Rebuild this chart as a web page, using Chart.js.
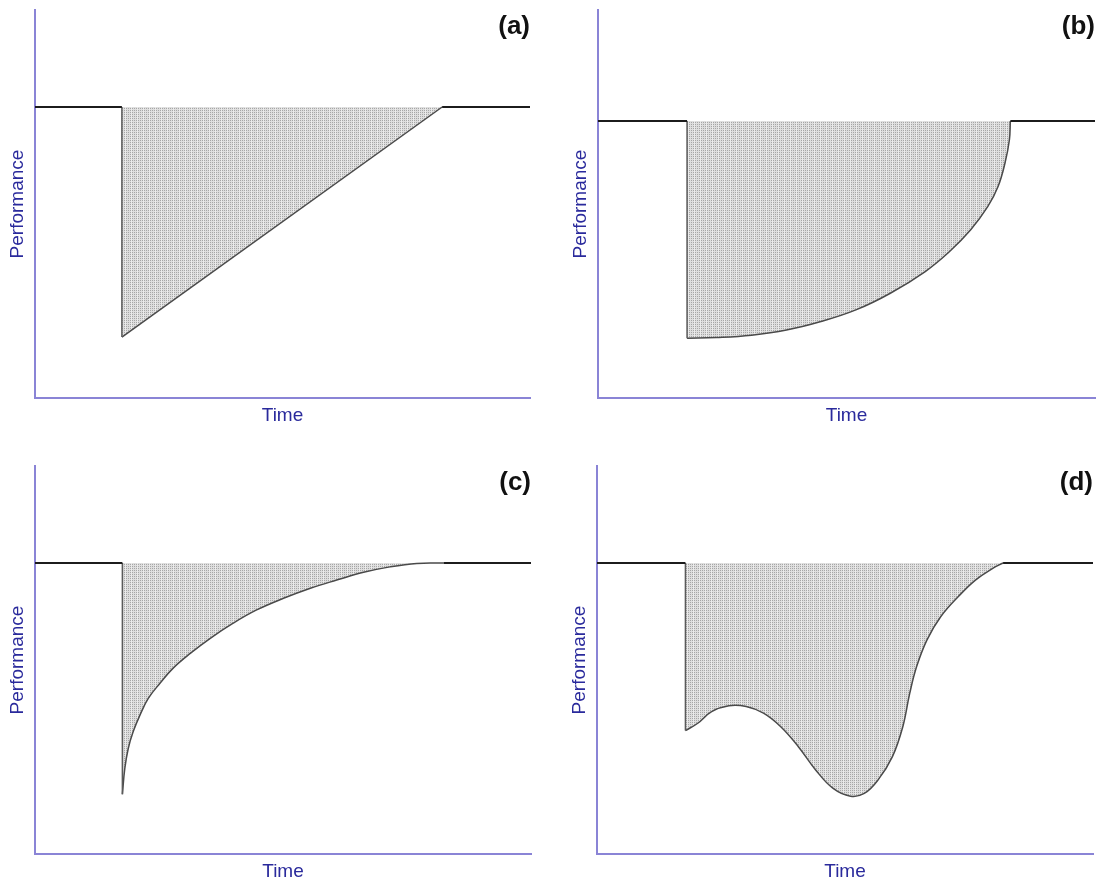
<!DOCTYPE html>
<html>
<head>
<meta charset="utf-8">
<script src="https://cdn.jsdelivr.net/npm/chart.js@4.4.1/dist/chart.umd.min.js"></script>
<style>
  html, body { margin: 0; padding: 0; background: #fff; overflow: hidden; }
  body { width: 1099px; height: 886px; position: relative; }
  canvas { position: absolute; }
</style>
</head>
<body>
<canvas id="panelA" width="549" height="440" style="left:0;top:0"></canvas>
<canvas id="panelB" width="536" height="440" style="left:563px;top:0"></canvas>
<canvas id="panelC" width="549" height="440" style="left:0;top:456px"></canvas>
<canvas id="panelD" width="537" height="440" style="left:562px;top:456px"></canvas>
<script>
// panel letters and axis titles
const panelLabels = ['(a)', '(b)', '(c)', '(d)'];
const xTitle = 'Time';
const yTitle = 'Performance';

// right end of each time axis (the flat line runs to the edge)
const timeMax = [101.4, 101.0, 101.6, 100.4];

// normal performance level before the disruption
const baseA = 75;
const baseB = 71.4;
const baseC = 75;
const baseD = 75;

// (a) linear recovery
const timeA = [17.8, 83.4];
const perfA = [15.7, 75];

// (b) slow then fast recovery
const timeB = [18.1, 24.1, 31.2, 38.3, 45.3, 52.4, 59.4, 66.5, 71.4, 75.7, 79.2, 81.3, 82.7, 83.6, 83.8];
const perfB = [15.4, 15.6, 16.2, 17.5, 19.7, 22.7, 27.0, 32.6, 37.7, 43.3, 49.3, 54.5, 60.5, 66.5, 71.4];

// (c) fast then slow recovery
const timeC = [17.9, 18.4, 19.1, 20.1, 21.5, 23.2, 25.6, 28.3, 31.8, 35.9, 40.6, 45.4, 50.9, 56.4, 61.8, 67.3, 72.7, 78.2, 83.7];
const perfC = [15.4, 22.1, 27.2, 31.5, 35.8, 40.1, 44.0, 47.9, 51.7, 55.6, 59.5, 62.9, 65.9, 68.5, 70.6, 72.6, 74.0, 74.9, 75];

// (d) partial recovery, second drop, then recovery
const timeD = [17.9, 20.4, 23.2, 26.7, 30.2, 33.7, 37.2, 40.8, 44.3, 47.8, 51.3, 54.1, 56.9, 59.8, 61.9, 63.3, 64.7, 66.8, 69.6, 73.1, 76.6, 80.1, 82.2];
const perfD = [31.8, 33.7, 36.7, 38.2, 38.0, 36.3, 32.8, 27.6, 21.6, 16.9, 14.9, 15.6, 19.1, 25.1, 32.8, 41.4, 48.3, 55.2, 61.2, 66.3, 70.6, 73.6, 75];

const FONT = "'Liberation Sans', Arial, sans-serif";
const axisColor = '#8a84d6';
const labelColor = '#2a2a9c';

// grey dotted fill like the original halftone
function dotPattern() {
    const c = document.createElement('canvas');
    c.width = 6;
    c.height = 4;
    const g = c.getContext('2d');
    g.fillStyle = '#dedede';
    g.fillRect(0, 0, 6, 4);
    g.fillStyle = '#a6a6a6';
    for (let x = 0; x < 6; x += 2) {
        for (let y = 0; y < 4; y += 2) g.fillRect(x, y, 1, 1);
    }
    g.fillStyle = '#ebebeb';
    g.fillRect(5, 0, 1, 4);
    return g.createPattern(c, 'repeat');
}

function toPoints(xs, ys) {
    return xs.map((x, i) => ({ x: x, y: ys[i] }));
}

function drawPanel(id, label, base, times, perfs, xMax, padRight, tension) {
    const t0 = times[0];
    const t1 = times[times.length - 1];
    const ctx = document.getElementById(id).getContext('2d');
    return new Chart(ctx, {
        type: 'line',
        data: {
            datasets: [{
                // flat line before and after the dip
                label: 'baseline',
                data: [{ x: 0, y: base }, { x: t0, y: base }, { x: (t0 + t1) / 2, y: null }, { x: t1, y: base }, { x: xMax, y: base }],
                borderColor: '#1c1c1c',
                borderWidth: 2,
                pointRadius: 0,
                spanGaps: false,
                fill: false,
                order: 0
            }, {
                label: 'drop',
                data: [{ x: t0, y: base }, { x: t0, y: perfs[0] }],
                borderColor: '#5a5a5a',
                borderWidth: 1.5,
                pointRadius: 0,
                fill: false,
                order: 1
            }, {
                label: 'recovery',
                data: toPoints(times, perfs),
                borderColor: '#4a4a4a',
                borderWidth: 1.5,
                backgroundColor: dotPattern(),
                pointRadius: 0,
                tension: tension,
                fill: { value: base },
                order: 2
            }]
        },
        options: {
            responsive: false,
            animation: false,
            events: [],
            layout: { autoPadding: false, padding: { left: 0, right: padRight, top: 0, bottom: 0 } },
            plugins: {
                legend: { display: false },
                tooltip: { enabled: false },
                title: {
                    display: true,
                    text: label,
                    align: 'end',
                    color: '#111',
                    font: { family: FONT, size: 26, weight: 'bold', lineHeight: 1.2 },
                    padding: { top: 11.4, bottom: -32.6 }
                }
            },
            scales: {
                x: {
                    type: 'linear',
                    min: 0,
                    max: xMax,
                    ticks: { display: false },
                    grid: { display: false, drawTicks: false },
                    border: { display: true, color: axisColor, width: 2 },
                    title: {
                        display: true,
                        text: xTitle,
                        color: labelColor,
                        font: { family: FONT, size: 19 },
                        padding: { top: 0, bottom: 13 }
                    },
                    afterFit: (scale) => { scale.height = 42; }
                },
                y: {
                    min: 0,
                    max: 100,
                    ticks: { display: false },
                    grid: { display: false, drawTicks: false },
                    border: { display: true, color: axisColor, width: 2 },
                    title: {
                        display: true,
                        text: yTitle,
                        color: labelColor,
                        font: { family: FONT, size: 19 },
                        padding: { top: 6.6, bottom: 0 }
                    },
                    afterFit: (scale) => { scale.width = 35; }
                }
            }
        }
    });
}

drawPanel('panelA', panelLabels[0], baseA, timeA, perfA, timeMax[0], 19, 0);
drawPanel('panelB', panelLabels[1], baseB, timeB, perfB, timeMax[1], 4, 0.4);
drawPanel('panelC', panelLabels[2], baseC, timeC, perfC, timeMax[2], 18, 0.4);
drawPanel('panelD', panelLabels[3], baseD, timeD, perfD, timeMax[3], 6, 0.4);
</script>
</body>
</html>
